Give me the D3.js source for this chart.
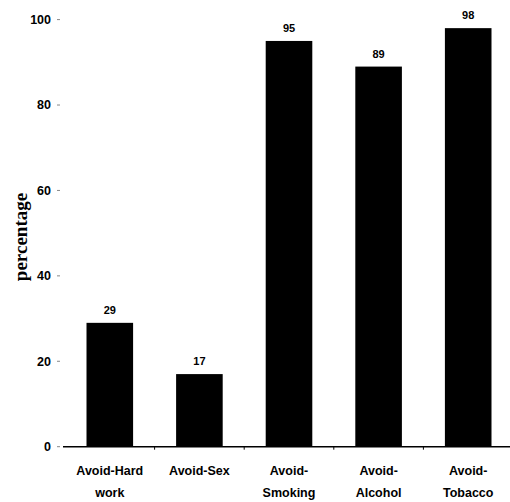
<!DOCTYPE html>
<html><head><meta charset="utf-8">
<script src="https://cdn.jsdelivr.net/npm/d3@7"></script>
<style>body{margin:0;background:#fff}</style>
</head><body>
<svg id="c" width="510" height="502"></svg>
<script>
const categories = [["Avoid-Hard","work"],["Avoid-Sex"],["Avoid-","Smoking"],["Avoid-","Alcohol"],["Avoid-","Tobacco"]];
const values = [29, 17, 95, 89, 98];
const yTicks = [0, 20, 40, 60, 80, 100];

const svg = d3.select("#c");
const m = {left: 65, right: -3, top: 19.6, bottom: 55};
const W = 510, H = 502;
const x = d3.scaleBand().domain(d3.range(values.length)).range([m.left, W - m.right]).paddingInner(0.48).paddingOuter(0.24);
const y = d3.scaleLinear().domain([0, 100]).range([446.7, m.top]);

// y axis ticks (no axis line)
const ya = svg.append("g");
yTicks.forEach(t => {
  ya.append("line").attr("x1", 57).attr("x2", 60).attr("y1", y(t)).attr("y2", y(t)).attr("stroke", "#888").attr("stroke-width", 1);
  ya.append("text").attr("x", 51).attr("y", y(t)).attr("dy", "0.35em").attr("text-anchor", "end")
    .attr("font-family", "Liberation Sans, Arial, sans-serif").attr("font-weight", "bold").attr("font-size", 12.5).text(t);
});

// baseline
svg.append("line").attr("x1", 63).attr("x2", 510).attr("y1", y(0)).attr("y2", y(0)).attr("stroke", "#000").attr("stroke-width", 1.5);
const step = x.step();
d3.range(values.length).forEach(i => {
  const bx = x(i) + x.bandwidth() / 2 + step / 2;
  svg.append("line").attr("x1", bx).attr("x2", bx).attr("y1", y(0)).attr("y2", y(0) + 3).attr("stroke", "#000");
});

// bars
svg.selectAll("rect.bar").data(values).join("rect")
  .attr("x", (d, i) => x(i)).attr("width", x.bandwidth())
  .attr("y", d => y(d)).attr("height", d => y(0) - y(d)).attr("fill", "#000");

// value labels
svg.selectAll("text.val").data(values).join("text")
  .attr("x", (d, i) => x(i) + x.bandwidth() / 2).attr("y", d => y(d) - 9)
  .attr("text-anchor", "middle").attr("font-family", "Liberation Sans, Arial, sans-serif")
  .attr("font-weight", "bold").attr("font-size", 11).text(d => d);

// category labels
categories.forEach((lines, i) => {
  const t = svg.append("text").attr("text-anchor", "middle")
    .attr("font-family", "Liberation Sans, Arial, sans-serif").attr("font-weight", "bold").attr("font-size", 12.5);
  lines.forEach((l, j) => {
    t.append("tspan").attr("x", x(i) + x.bandwidth() / 2).attr("y", 474.5 + j * 22).text(l);
  });
});

// y title
svg.append("text").attr("transform", "translate(27,237) rotate(-90)").attr("text-anchor", "middle")
  .attr("font-family", "Liberation Serif, Times New Roman, serif").attr("font-weight", "bold")
  .attr("font-size", 19).text("percentage");
</script>
</body></html>
